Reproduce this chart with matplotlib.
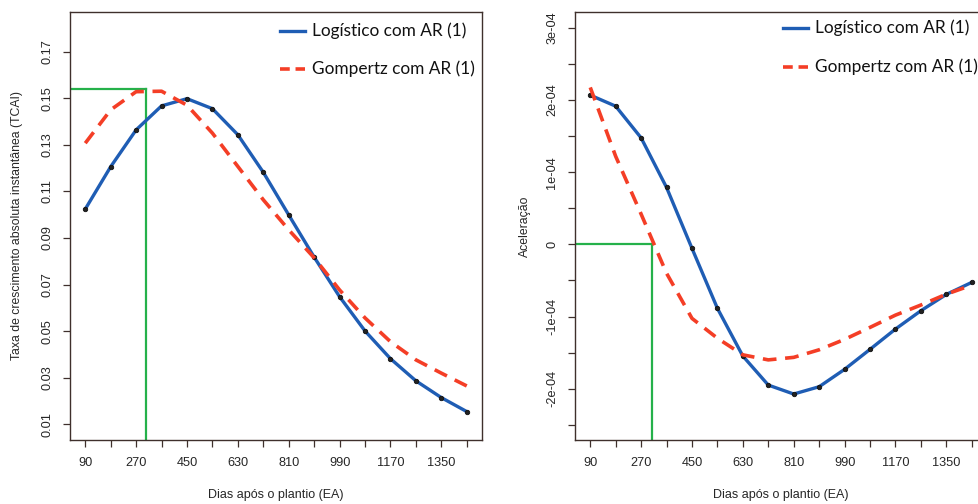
import numpy as np
import matplotlib
matplotlib.use("Agg")
from matplotlib import pyplot as plt
from matplotlib.lines import Line2D

# days after planting
dias = [90, 180, 270, 360, 450, 540, 630, 720, 810, 900,
        990, 1080, 1170, 1260, 1350, 1440]

# absolute growth rate (TCAI)
tcai_logistico = [0.1024, 0.1206, 0.1364, 0.1467, 0.1498, 0.1455, 0.1343, 0.1182,
                  0.0999, 0.0818, 0.0648, 0.0501, 0.0382, 0.0287, 0.0215, 0.0155]
tcai_gompertz = [0.1307, 0.1450, 0.1528, 0.1530, 0.1470, 0.1350, 0.1207, 0.1064,
                 0.0935, 0.0815, 0.0677, 0.0557, 0.0455, 0.0377, 0.0320, 0.0265]

# acceleration
acel_logistico = [2.068e-4, 1.915e-4, 1.476e-4, 0.789e-4, -0.055e-4, -0.886e-4,
                  -1.547e-4, -1.949e-4, -2.073e-4, -1.972e-4, -1.731e-4, -1.454e-4,
                  -1.173e-4, -0.919e-4, -0.693e-4, -0.526e-4]
acel_gompertz = [2.175e-4, 1.220e-4, 0.420e-4, -0.400e-4, -1.025e-4, -1.300e-4,
                 -1.530e-4, -1.600e-4, -1.565e-4, -1.460e-4, -1.316e-4, -1.150e-4,
                 -0.980e-4, -0.840e-4, -0.690e-4, -0.564e-4]

# green reference marks (Gompertz peak / zero crossing)
pico_x, pico_y = 305, 0.154
zero_x, zero_y = 309, 0.0

leg_labels = ["Logístico com AR (1)", "Gompertz com AR (1)"]

BLUE = "#1f5db4"
RED = "#f43e26"
GREEN = "#25b14a"
FRAME = "#3f302c"
TXT = "#262626"

W, H = 979, 504


def main():
    fig = plt.figure(figsize=(W / 100, H / 100), dpi=100)
    ax1 = fig.add_axes(box(70, 12, 482, 440))
    ax2 = fig.add_axes(box(575, 12, 987, 440))

    draw_panel(ax1, tcai_logistico, tcai_gompertz)
    ax1.plot([0, pico_x], [pico_y, pico_y], color=GREEN, lw=1.6, zorder=1)
    ax1.plot([pico_x, pico_x], [pico_y, -1], color=GREEN, lw=1.6, zorder=1)
    ax1.set_ylim(0.0033, 0.187)
    yt = np.round(np.arange(0.01, 0.171, 0.02), 2)
    ax1.set_yticks(yt)
    ax1.set_yticklabels(["%.2f" % v for v in yt], rotation=90, va="center")

    draw_panel(ax2, acel_logistico, acel_gompertz)
    ax2.plot([0, zero_x], [zero_y, zero_y], color=GREEN, lw=1.6, zorder=1)
    ax2.plot([zero_x, zero_x], [zero_y, -1], color=GREEN, lw=1.6, zorder=1)
    ax2.set_ylim(-2.71e-4, 3.22e-4)
    yt2 = np.arange(-2.5e-4, 3.01e-4, 0.5e-4)
    ax2.set_yticks(yt2)
    lab2 = []
    for v in yt2:
        k = int(round(v / 0.5e-4))
        if k % 2:
            lab2.append("")
        elif k == 0:
            lab2.append("0")
        else:
            lab2.append("%de-04" % (k // 2))
    ax2.set_yticklabels(lab2, rotation=90, va="center")

    fig.text(17 / W, 1 - 226 / H, "Taxa de crescimento absoluta instantânea (TCAI)",
             rotation=90, ha="center", va="center", fontsize=8.8, color=TXT,
             family="Liberation Sans")
    fig.text(525 / W, 1 - 226 / H, "Aceleração", rotation=90, ha="center",
             va="center", fontsize=8.8, color=TXT, family="Liberation Sans")
    fig.text(276 / W, 1 - 495 / H, "Dias após o plantio (EA)", ha="center",
             va="center", fontsize=9, color=TXT, family="Liberation Sans")
    fig.text(781 / W, 1 - 495 / H, "Dias após o plantio (EA)", ha="center",
             va="center", fontsize=9, color=TXT, family="Liberation Sans")

    add_legend(fig, 280, 30.7, 69)
    add_legend(fig, 783, 28, 67)

    fig.savefig("out.png", dpi=100)


def box(x0, y0, x1, y1):
    return [x0 / W, 1 - y1 / H, (x1 - x0) / W, (y1 - y0) / H]


def draw_panel(ax, logi, gomp):
    ax.plot(dias, logi, color=BLUE, lw=2.4, zorder=3, solid_capstyle="round")
    ax.plot(dias, logi, "o", color="#222222", ms=3.2, mec="#111111",
            mew=0.6, zorder=4)
    ax.plot(dias, gomp, color=RED, lw=2.6, ls=(0, (3.8, 2.4)), zorder=5)
    ax.set_xlim(36, 1494)
    ax.set_xticks(dias)
    ax.set_xticklabels([str(d) if i % 2 == 0 else "" for i, d in enumerate(dias)])
    for s in ax.spines.values():
        s.set_color(FRAME)
        s.set_linewidth(1.0)
    ax.tick_params(direction="out", length=5, width=0.9, color=FRAME,
                   labelsize=9.2, labelcolor=TXT, pad=7)
    for t in ax.get_xticklabels() + ax.get_yticklabels():
        t.set_family("Liberation Sans")


def add_legend(fig, x0, y_a, y_b):
    lx = [x0 / W, (x0 + 25) / W]
    fig.add_artist(Line2D(lx, [1 - y_a / H] * 2, color=BLUE, lw=2.4))
    fig.add_artist(Line2D(lx, [1 - y_b / H] * 2, color=RED, lw=2.6,
                          ls=(0, (2.7, 1.6))))
    fig.text((x0 + 32) / W, 1 - y_a / H, leg_labels[0], va="center",
             fontsize=12.4, color="#111111", family="Lato")
    fig.text((x0 + 32) / W, 1 - y_b / H, leg_labels[1], va="center",
             fontsize=12.4, color="#111111", family="Lato")


if __name__ == '__main__':
    main()
